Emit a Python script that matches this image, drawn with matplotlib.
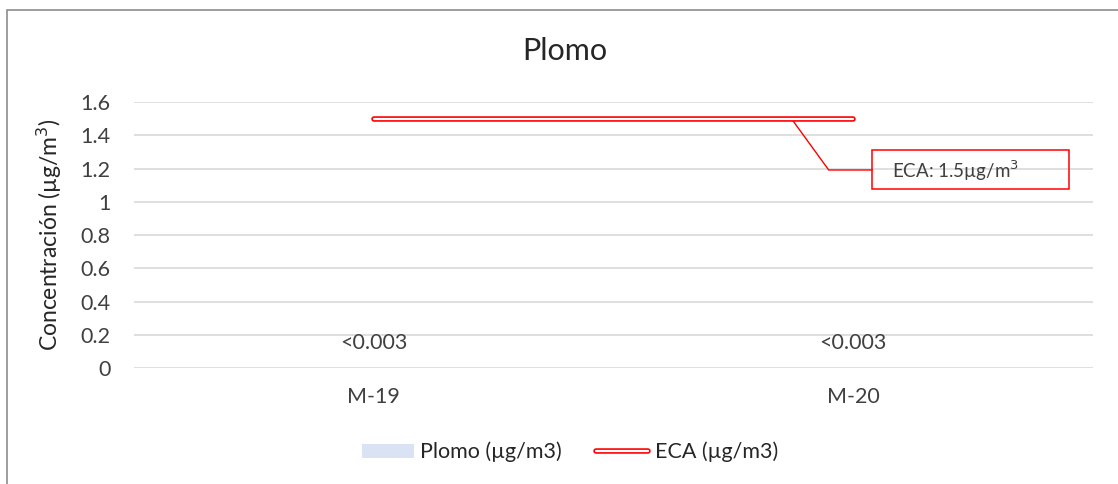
import matplotlib.pyplot as plt
from matplotlib.lines import Line2D
from matplotlib.patches import Patch, Rectangle

plt.rcParams['font.family'] = ['Lato', 'DejaVu Sans']

# data
muestras = ['M-19', 'M-20']
plomo = [0.003, 0.003]
plomo_txt = ['<0.003', '<0.003']
eca = [1.5, 1.5]

txt = '#404040'
W, H = 1118, 484
fs = 15.5

fig = plt.figure(figsize=(W / 100, H / 100), dpi=100)
# chart border (runs off the right/bottom edge like the reference)
fig.patches.append(Rectangle((7 / W, -0.1), 1.2, 1 - 10 / H + 0.1, transform=fig.transFigure,
                             fill=False, edgecolor='#8c8c8c', lw=1.2))

ax = fig.add_axes([134 / W, 1 - 368 / H, (1093 - 134) / W, 266 / H])
x = list(range(len(muestras)))

bars = ax.bar(x, plomo, width=0.5, color='#dae3f3', zorder=2)
for xi, v, t in zip(x, plomo, plomo_txt):
    ax.annotate(t, (xi, v), xytext=(0, 18), textcoords='offset points',
                ha='center', va='center', fontsize=fs, color=txt)

ax.plot(x, eca, color='red', lw=4, solid_capstyle='round', zorder=3)
ax.plot(x, eca, color='white', lw=1.6, solid_capstyle='round', zorder=4)

ax.set_xlim(-0.5, 1.5)
ax.set_ylim(0, 1.6)
ax.set_yticks([0, 0.2, 0.4, 0.6, 0.8, 1, 1.2, 1.4, 1.6])
ax.set_yticklabels(['0', '0.2', '0.4', '0.6', '0.8', '1', '1.2', '1.4', '1.6'])
ax.set_xticks(x)
ax.set_xticklabels(muestras)
ax.tick_params(axis='y', length=0, pad=17, labelsize=fs, labelcolor=txt)
ax.tick_params(axis='x', length=0, pad=14, labelsize=fs, labelcolor=txt)
ax.grid(axis='y', color='#d9d9d9', lw=1.2, zorder=0)
ax.set_axisbelow(True)
for s in ax.spines.values():
    s.set_visible(False)

fig.text(565 / W, 1 - 51 / H, 'Plomo', fontsize=22, color='#262626', ha='center', va='center')
ax.set_ylabel('Concentración (µg/m$^3$)', fontsize=16.5, color='#262626', labelpad=12)

# callout for the ECA line
ax.add_patch(Rectangle((1.0397, 1.077), 0.411, 0.234, fill=False, edgecolor='red', lw=1.1,
                       zorder=5, clip_on=False))
ax.annotate('', xy=(0.871, 1.5), xytext=(1.0397, 1.191),
            arrowprops=dict(arrowstyle='-', color='red', lw=1.0, shrinkA=0, shrinkB=0,
                            connectionstyle='angle,angleA=0,angleB=-54,rad=0'))
ax.text(1.08, 1.185, 'ECA: 1.5µg/m$^3$', fontsize=13.5, color=txt, va='center', ha='left')

h1 = Patch(facecolor='#dae3f3')
h2 = (Line2D([], [], color='red', lw=4, solid_capstyle='round'),
      Line2D([], [], color='white', lw=1.6, solid_capstyle='round'))
fig.legend([h1, h2], ['Plomo (µg/m3)', 'ECA (µg/m3)'], loc='center',
           bbox_to_anchor=(570 / W, 1 - 452 / H), ncol=2, frameon=False, fontsize=fs,
           labelcolor='#262626', handlelength=2.4, handleheight=0.6, columnspacing=1.6,
           handletextpad=0.3)

fig.savefig('out.png', dpi=100)
